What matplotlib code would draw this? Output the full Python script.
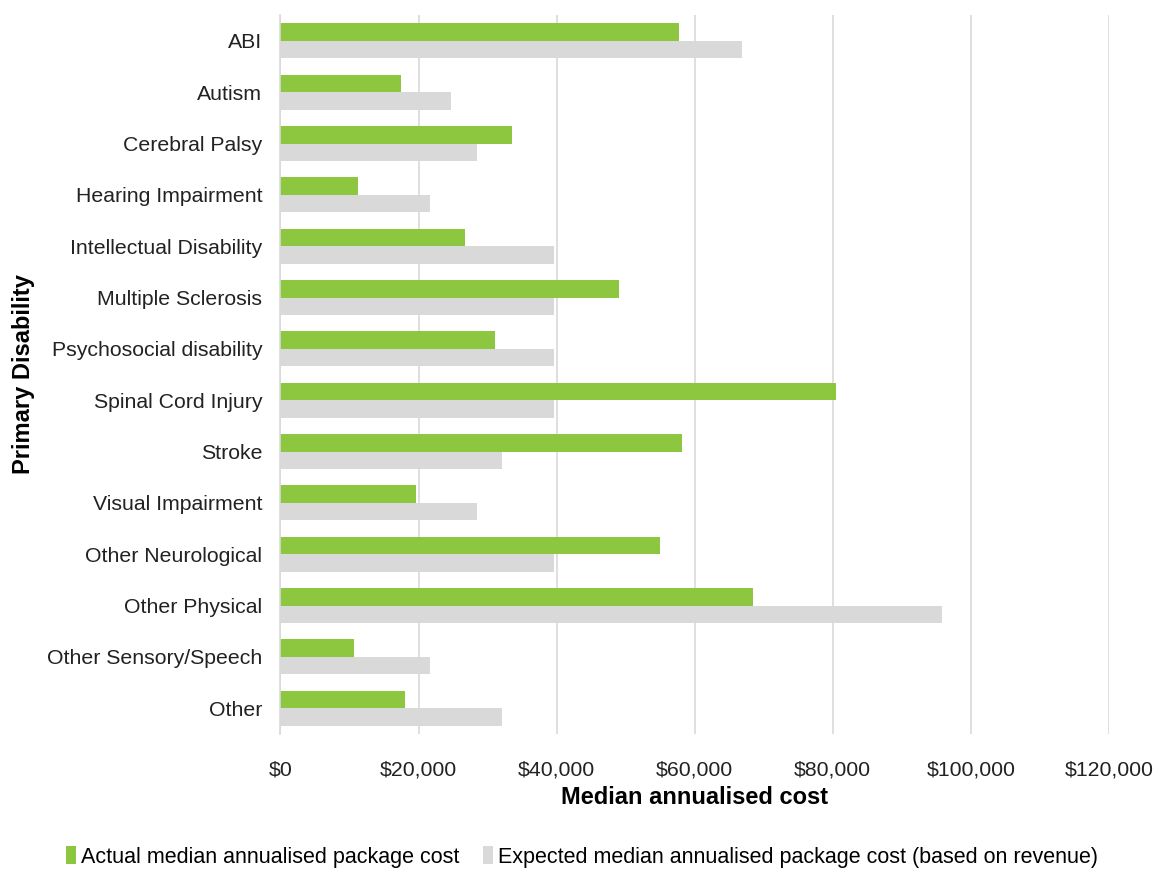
import numpy as np
import matplotlib
matplotlib.use("Agg")
import matplotlib.pyplot as plt
from matplotlib.ticker import FuncFormatter

plt.rcParams['font.family'] = ['Liberation Sans', 'DejaVu Sans']

categories = ["ABI", "Autism", "Cerebral Palsy", "Hearing Impairment",
              "Intellectual Disability", "Multiple Sclerosis",
              "Psychosocial disability", "Spinal Cord Injury", "Stroke",
              "Visual Impairment", "Other Neurological", "Other Physical",
              "Other Sensory/Speech", "Other"]
actual = [57800, 17400, 33500, 11200, 26800, 49100, 31100, 80500, 58100,
          19600, 55000, 68500, 10700, 18000]
expected = [66800, 24700, 28500, 21600, 39600, 39600, 39600, 39600, 32100,
            28500, 39600, 95900, 21600, 32100]

green = "#8dc63f"
grey = "#d9d9d9"

fig = plt.figure(figsize=(11.57, 8.69), dpi=100)
ax = fig.add_axes([0.2424, 0.1555, 0.716, 0.827])

y = np.arange(len(categories))
h = 0.34
ax.barh(y - h / 2, actual, height=h, color=green, label="Actual median annualised package cost")
ax.barh(y + h / 2, expected, height=h, color=grey,
        label="Expected median annualised package cost (based on revenue)")

ax.set_ylim(len(categories) - 0.5, -0.5)
ax.set_yticks(y)
ax.set_yticklabels(categories, fontsize=15.3, color="#222222")
ax.set_xlim(0, 120000)
ax.set_xticks(np.arange(0, 120001, 20000))
ax.xaxis.set_major_formatter(FuncFormatter(lambda v, p: "${:,.0f}".format(v)))
ax.tick_params(axis='x', labelsize=15.3, colors="#222222", length=0, pad=19)
ax.tick_params(axis='y', length=0, pad=13)

# light vertical gridlines, bars on top
ax.grid(axis='x', color="#d9d9d9", linewidth=1.2)
ax.set_axisbelow(True)
for s in ["top", "right", "bottom"]:
    ax.spines[s].set_visible(False)
ax.spines["left"].set_color("#d9d9d9")
ax.spines["left"].set_linewidth(1.2)

ax.set_xlabel("Median annualised cost", fontsize=17, fontweight="bold", labelpad=5)
ax.set_ylabel("Primary Disability", fontsize=17, fontweight="bold", labelpad=9)

fig.legend(loc="center", bbox_to_anchor=(0.503, 0.0138), ncol=2, frameon=False,
           fontsize=15.5, handlelength=0.45, handleheight=0.9, handletextpad=0.25,
           columnspacing=1.1)

plt.savefig("out.png", dpi=100)
